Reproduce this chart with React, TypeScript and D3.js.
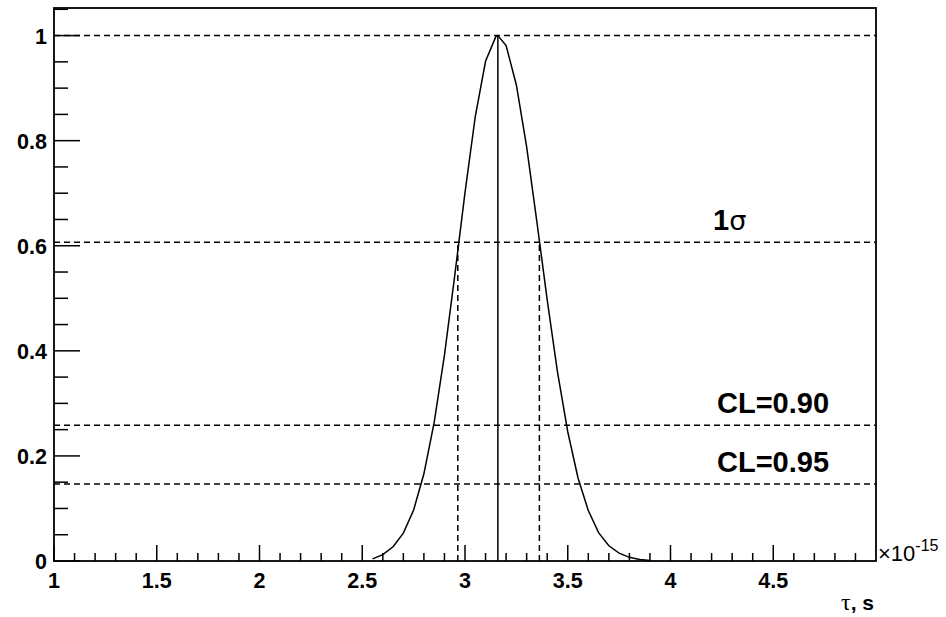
import React from "react";
import * as d3 from "d3";

const tau = [2.55, 2.6, 2.65, 2.7, 2.75, 2.8, 2.85, 2.9, 2.95, 3.0, 3.05, 3.1, 3.15, 3.16, 3.2, 3.25, 3.3, 3.35, 3.4, 3.45, 3.5, 3.55, 3.6, 3.65, 3.7, 3.75, 3.8, 3.85, 3.9];
const likelihood = [0.004, 0.012, 0.027, 0.053, 0.097, 0.166, 0.264, 0.392, 0.543, 0.701, 0.846, 0.951, 0.998, 1.0, 0.981, 0.906, 0.788, 0.645, 0.497, 0.36, 0.246, 0.158, 0.096, 0.054, 0.029, 0.015, 0.007, 0.003, 0.001];

const levelValues = [1.0, 0.6065, 0.2585, 0.1465];
const levelLabels = ["", "1σ", "CL=0.90", "CL=0.95"];
const bestTau = 3.16;
const sigmaBounds = [2.965, 3.362];

const xMajorTicks = [1, 1.5, 2, 2.5, 3, 3.5, 4, 4.5];
const yMajorTicks = [0, 0.2, 0.4, 0.6, 0.8, 1];

export default function App() {
  const W = 946, H = 617;
  const left = 54, right = 876, top = 8, bottom = 561;
  const x = d3.scaleLinear().domain([1, 5]).range([left, right]);
  const y = d3.scaleLinear().domain([0, 1.0525]).range([bottom, top]);

  const line = d3.line<number>().x((_, i) => x(tau[i])).y((d) => y(d));

  const xMinor = d3.range(1, 5.001, 0.1).map((v) => +v.toFixed(2)).filter((v) => Math.abs(v * 2 - Math.round(v * 2)) > 1e-6);
  const yMinor = d3.range(0, 1.0501, 0.05).map((v) => +v.toFixed(3)).filter((v) => Math.abs(v * 5 - Math.round(v * 5)) > 1e-6);

  const font = "'Liberation Sans', Arial, Helvetica, sans-serif";
  const dash = "6,4";

  return (
    <svg width={W} height={H} style={{ position: "absolute", left: 0, top: 0, background: "#fff" }}>
      <rect x={0} y={0} width={W} height={H} fill="#fff" />
      {levelValues.map((v, i) => (
        <line key={"h" + i} x1={left} x2={right} y1={y(v)} y2={y(v)} stroke="#000" strokeWidth={1.5} strokeDasharray={dash} />
      ))}
      {sigmaBounds.map((v, i) => (
        <line key={"v" + i} x1={x(v)} x2={x(v)} y1={bottom} y2={y(levelValues[1])} stroke="#000" strokeWidth={1.5} strokeDasharray={dash} />
      ))}
      <line x1={x(bestTau)} x2={x(bestTau)} y1={bottom} y2={y(1)} stroke="#000" strokeWidth={1.5} />
      <path d={line(likelihood) || ""} fill="none" stroke="#000" strokeWidth={1.5} />
      <rect x={left} y={top} width={right - left} height={bottom - top} fill="none" stroke="#000" strokeWidth={1.8} />
      {xMajorTicks.map((v) => (
        <g key={"xt" + v}>
          <line x1={x(v)} x2={x(v)} y1={bottom} y2={bottom - 16} stroke="#000" strokeWidth={1.5} />
          <text x={x(v)} y={588} textAnchor="middle" fontFamily={font} fontWeight="bold" fontSize={21.5}>{String(v)}</text>
        </g>
      ))}
      {xMinor.map((v) => (
        <line key={"xm" + v} x1={x(v)} x2={x(v)} y1={bottom} y2={bottom - 8} stroke="#000" strokeWidth={1.5} />
      ))}
      {yMajorTicks.map((v) => (
        <g key={"yt" + v}>
          <line x1={left} x2={left + 26} y1={y(v)} y2={y(v)} stroke="#000" strokeWidth={1.5} />
          <text x={47} y={y(v) + 8} textAnchor="end" fontFamily={font} fontWeight="bold" fontSize={21.5}>{String(v)}</text>
        </g>
      ))}
      {yMinor.map((v) => (
        <line key={"ym" + v} x1={left} x2={left + 14} y1={y(v)} y2={y(v)} stroke="#000" strokeWidth={1.5} />
      ))}
      {levelLabels.map((t, i) => t ? (
        i === 1 ? (
          <text key={"l" + i} x={713} y={y(levelValues[i]) - 12} fontFamily={font} fontWeight="bold" fontSize={29}>
            {t.slice(0, 1)}<tspan fontWeight="normal" fontFamily="'DejaVu Sans', sans-serif" fontSize={27}>{t.slice(1)}</tspan>
          </text>
        ) : (
          <text key={"l" + i} x={773} y={y(levelValues[i]) - 12} textAnchor="middle" fontFamily={font} fontWeight="bold" fontSize={29}>{t}</text>
        )
      ) : null)}
      <text x={878} y={561} fontFamily={font} fontSize={22}>
        ×10<tspan dy={-10} fontSize={16}>-15</tspan>
      </text>
      <text x={874} y={610} textAnchor="end" fontFamily={font} fontWeight="bold" fontSize={21}>
        <tspan fontFamily="'Liberation Serif', 'DejaVu Serif', serif" fontWeight="normal" fontSize={24}>τ</tspan>, s
      </text>
    </svg>
  );
}
